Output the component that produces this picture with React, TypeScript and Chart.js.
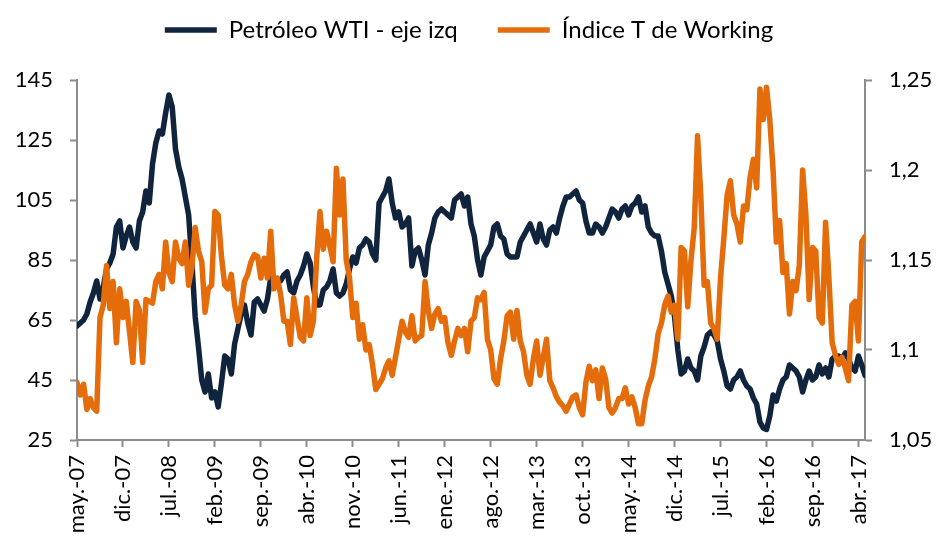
import React, { useEffect, useRef } from 'react';
import { Chart, registerables } from 'chart.js';

Chart.register(...registerables);

// Semi-monthly observations, May 2007 .. May 2017 (index 0 = May-07)
const xTickLabels = [
  'may.-07', 'dic.-07', 'jul.-08', 'feb.-09', 'sep.-09', 'abr.-10', 'nov.-10', 'jun.-11', 'ene.-12',
  'ago.-12', 'mar.-13', 'oct.-13', 'may.-14', 'dic.-14', 'jul.-15', 'feb.-16', 'sep.-16', 'abr.-17',
];

const wti = [
  63, 64, 65, 67, 71, 74, 78, 72, 76, 82, 84, 87, 96, 98, 89, 93, 96, 91, 89, 98,
  101, 108, 104, 117, 124, 128, 127, 134, 140, 136, 122, 116, 112, 106, 100, 84, 66, 56, 45, 41,
  47, 39, 41, 36, 44, 53, 52, 47, 57, 62, 67, 70, 64, 60, 71, 72, 70, 68, 72, 79,
  77, 78, 78, 80, 81, 75, 74, 78, 80, 83, 87, 84, 76, 70, 70, 75, 76, 78, 82, 74,
  73, 74, 77, 82, 86, 84, 89, 90, 92, 91, 87, 85, 104, 106, 108, 112, 104, 99, 101, 96,
  97, 99, 83, 88, 89, 85, 80, 90, 94, 99, 101, 102, 101, 100, 99, 105, 106, 107, 103, 106,
  97, 93, 85, 80, 86, 88, 90, 96, 97, 93, 92, 87, 86, 86, 86, 91, 93, 95, 97, 94,
  91, 97, 92, 90, 95, 96, 94, 99, 103, 106, 106, 107, 108, 105, 104, 98, 94, 94, 97, 96,
  94, 96, 99, 102, 101, 99, 102, 103, 100, 103, 104, 106, 101, 103, 96, 94, 93, 93, 88, 81,
  77, 73, 66, 55, 47, 48, 52, 49, 48, 45, 53, 56, 60, 61, 60, 58, 52, 48, 43, 42,
  45, 46, 48, 45, 43, 42, 39, 37, 31, 29, 28.5, 33, 40, 38, 42, 45, 46, 50, 49, 48,
  46, 41, 45, 48, 45, 46, 50, 47, 49, 46, 52, 53, 53, 52, 54, 52, 49, 48, 53, 50,
  46.5,
];

const working = [
  1.082, 1.075, 1.081, 1.067, 1.073, 1.068, 1.066, 1.118, 1.125, 1.147,
  1.123, 1.138, 1.104, 1.134, 1.118, 1.127, 1.110, 1.093, 1.127, 1.122,
  1.093, 1.128, 1.127, 1.126, 1.138, 1.142, 1.134, 1.160, 1.143, 1.138,
  1.160, 1.151, 1.148, 1.160, 1.136, 1.146, 1.168, 1.155, 1.149, 1.121,
  1.134, 1.136, 1.177, 1.175, 1.152, 1.136, 1.134, 1.142, 1.125, 1.116,
  1.125, 1.138, 1.142, 1.149, 1.153, 1.152, 1.140, 1.151, 1.140, 1.166,
  1.134, 1.140, 1.131, 1.116, 1.116, 1.103, 1.129, 1.118, 1.107, 1.105,
  1.129, 1.108, 1.116, 1.151, 1.177, 1.156, 1.166, 1.158, 1.149, 1.201,
  1.175, 1.195, 1.150, 1.140, 1.118, 1.126, 1.106, 1.114, 1.100, 1.103,
  1.092, 1.078, 1.081, 1.084, 1.090, 1.094, 1.086, 1.096, 1.106, 1.116,
  1.110, 1.107, 1.119, 1.105, 1.107, 1.108, 1.138, 1.122, 1.112, 1.120,
  1.123, 1.116, 1.118, 1.104, 1.097, 1.105, 1.112, 1.108, 1.112, 1.099,
  1.116, 1.118, 1.129, 1.128, 1.132, 1.106, 1.100, 1.084, 1.081, 1.095,
  1.105, 1.119, 1.121, 1.106, 1.122, 1.105, 1.099, 1.086, 1.081, 1.095,
  1.105, 1.086, 1.096, 1.106, 1.083, 1.079, 1.074, 1.071, 1.069, 1.066,
  1.070, 1.074, 1.075, 1.068, 1.064, 1.082, 1.091, 1.083, 1.089, 1.073,
  1.090, 1.084, 1.068, 1.065, 1.068, 1.073, 1.073, 1.079, 1.070, 1.074,
  1.068, 1.059, 1.059, 1.072, 1.080, 1.085, 1.095, 1.109, 1.115, 1.125,
  1.130, 1.121, 1.125, 1.106, 1.157, 1.155, 1.124, 1.150, 1.168, 1.219,
  1.185, 1.136, 1.138, 1.115, 1.112, 1.106, 1.140, 1.162, 1.186, 1.194,
  1.175, 1.170, 1.160, 1.180, 1.178, 1.196, 1.206, 1.190, 1.245, 1.228,
  1.246, 1.228, 1.200, 1.160, 1.172, 1.143, 1.148, 1.120, 1.138, 1.133,
  1.147, 1.200, 1.175, 1.128, 1.157, 1.155, 1.118, 1.115, 1.171, 1.140,
  1.104, 1.097, 1.092, 1.096, 1.090, 1.083, 1.125, 1.127, 1.105, 1.160,
  1.163,
];

const NAVY = '#10243E';
const ORANGE = '#E46C0A';
const GREY = '#8C8C8C';
const FAMILY = 'Lato, "Open Sans", sans-serif';
const TICK_FONT = { family: FAMILY, size: 22 };
const LEGEND_FONT = { family: FAMILY, size: 24 };
const LEGEND_GAP = 28; // extra space between legend and plot area

const legendSpacer = {
  id: 'legendSpacer',
  beforeInit(chart: any) {
    const legend = chart.legend;
    if (!legend || legend.__spaced) return;
    const orig = legend.fit.bind(legend);
    legend.fit = function () {
      orig();
      this.height += LEGEND_GAP;
    };
    legend.__spaced = true;
  },
};

export default function App() {
  const ref = useRef<HTMLCanvasElement>(null);

  useEffect(() => {
    if (!ref.current) return;
    const toPts = (arr: number[]) => arr.map((v, i) => ({ x: i, y: v }));
    const chart = new Chart(ref.current, {
      type: 'line',
      data: {
        datasets: [
          {
            label: 'Petróleo WTI - eje izq',
            data: toPts(wti),
            yAxisID: 'y',
            borderColor: NAVY,
            backgroundColor: NAVY,
            borderWidth: 5.5,
            pointRadius: 0,
            borderCapStyle: 'round',
            borderJoinStyle: 'round',
            order: 1,
          },
          {
            label: 'Índice T de Working',
            data: toPts(working),
            yAxisID: 'y1',
            borderColor: ORANGE,
            backgroundColor: ORANGE,
            borderWidth: 5.5,
            pointRadius: 0,
            borderCapStyle: 'round',
            borderJoinStyle: 'round',
            order: 0,
          },
        ],
      },
      plugins: [legendSpacer],
      options: {
        animation: false,
        responsive: false,
        layout: { padding: { top: -22, left: 0, right: 0, bottom: 0 } },
        plugins: {
          tooltip: { enabled: false },
          legend: {
            position: 'top',
            align: 'center',
            labels: {
              usePointStyle: true,
              pointStyle: 'line',
              pointStyleWidth: 52,
              font: LEGEND_FONT,
              color: '#000',
              padding: 40,
              sort: (a: any, b: any) => a.datasetIndex - b.datasetIndex,
            },
          },
        },
        scales: {
          x: {
            type: 'linear',
            min: 0,
            max: 240,
            ticks: {
              stepSize: 14,
              includeBounds: false,
              autoSkip: false,
              minRotation: 90,
              maxRotation: 90,
              font: TICK_FONT,
              color: '#000',
              padding: 8,
              callback: (v: any) => {
                const k = Math.round(Number(v) / 14);
                return Math.abs(Number(v) - k * 14) < 0.01 ? xTickLabels[k] ?? '' : '';
              },
            },
            grid: { drawOnChartArea: false, drawTicks: true, tickLength: 7, tickColor: GREY, tickWidth: 2 },
            border: { display: true, color: GREY, width: 2 },
            afterFit: (s: any) => { s.height = 101; },
          },
          y: {
            position: 'left',
            min: 25,
            max: 145,
            ticks: { stepSize: 20, font: TICK_FONT, color: '#000', padding: 17 },
            grid: { drawOnChartArea: false, drawTicks: true, tickLength: 7, tickColor: GREY, tickWidth: 2 },
            border: { display: true, color: GREY, width: 2 },
            afterFit: (s: any) => { s.width = 77; },
          },
          y1: {
            position: 'right',
            min: 1.05,
            max: 1.25,
            ticks: {
              stepSize: 0.05,
              font: TICK_FONT,
              color: '#000',
              padding: 17,
              callback: (v: any) => String(parseFloat(Number(v).toFixed(2))).replace('.', ','),
            },
            grid: { drawOnChartArea: false, drawTicks: true, tickLength: 7, tickColor: GREY, tickWidth: 2 },
            border: { display: true, color: GREY, width: 2 },
            afterFit: (s: any) => { s.width = 73; },
          },
        },
      },
    } as any);
    return () => chart.destroy();
  }, []);

  return (
    <div style={{ position: 'fixed', left: 0, top: 0, width: 938, height: 541, background: '#fff' }}>
      <canvas ref={ref} width={938} height={541} style={{ display: 'block' }} />
    </div>
  );
}
